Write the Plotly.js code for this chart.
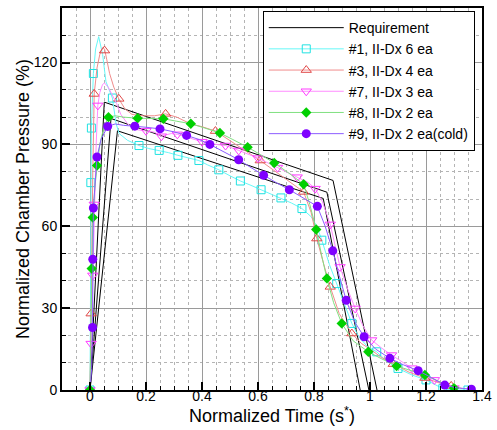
<!DOCTYPE html>
<html><head><meta charset="utf-8">
<script src="https://cdn.plot.ly/plotly-3.0.1.min.js"></script>
<style>html,body{margin:0;padding:0;background:#fff}#chart{width:497px;height:430px}</style>
</head><body><div id="chart"></div>
<script>
// Requirement envelope (three polylines separated by null)
const reqX = [0, 0.051, 0.868, 1.025, null, 0, 0.075, 0.846, 0.996, null, 0, 0.098, 0.833, 0.965];
const reqY = [0, 105.5, 76.8, 0, null, 0, 99.5, 72.5, 0, null, 0, 95, 70.2, 0];

// #1, II-Dx 6 ea
const s1X = [0, 0.002, 0.003, 0.005, 0.012, 0.02, 0.031, 0.045, 0.057, 0.08, 0.093, 0.104, 0.134, 0.175, 0.21, 0.247, 0.28, 0.314, 0.35, 0.389, 0.42, 0.46, 0.5, 0.537, 0.575, 0.611, 0.645, 0.682, 0.72, 0.757, 0.79, 0.81, 0.828, 0.855, 0.881, 0.91, 0.935, 0.96, 0.99, 1.024, 1.06, 1.1, 1.15, 1.2, 1.24, 1.26, 1.3, 1.35];
const s1Y = [0, 40, 76, 96, 116, 125, 129.5, 123, 113, 107, 97.7, 94, 91.5, 89.6, 88.5, 87.8, 87, 86, 85, 84.1, 82.5, 80.7, 78.5, 76.6, 75, 73.4, 72, 70.4, 68.5, 66.5, 63.5, 60, 54.9, 46, 39, 31, 24.4, 19.5, 16, 14, 10.5, 7.9, 5.5, 3.7, 1.5, 0.5, 0, 0];
const s1MX = [0, 0.003, 0.005, 0.012, 0.08, 0.175, 0.247, 0.314, 0.389, 0.46, 0.537, 0.611, 0.682, 0.757, 0.828, 0.881, 0.935, 1.024, 1.1, 1.2, 1.26, 1.35];
const s1MY = [0, 76, 96, 116, 107, 89.6, 87.8, 86, 84.1, 80.7, 76.6, 73.4, 70.4, 66.5, 54.9, 39, 24.4, 14, 7.9, 3.7, 0.5, 0];

// #3, II-Dx 4 ea
const s3X = [0, 0.002, 0.004, 0.01, 0.015, 0.025, 0.035, 0.045, 0.052, 0.06, 0.07, 0.085, 0.103, 0.125, 0.15, 0.19, 0.23, 0.27, 0.31, 0.36, 0.4, 0.448, 0.5, 0.55, 0.608, 0.65, 0.7, 0.763, 0.79, 0.81, 0.835, 0.858, 0.89, 0.935, 0.97, 1.0, 1.04, 1.083, 1.14, 1.196, 1.25, 1.29, 1.33];
const s3Y = [0, 12, 28, 80, 108.5, 118, 123, 125.5, 125, 121, 116, 111, 106.7, 103, 101, 100.5, 100.5, 101.2, 100, 97.5, 96.5, 94.9, 91.5, 88, 84.1, 81, 77.5, 72.6, 65, 55.5, 46, 37.8, 28, 20.7, 17, 15, 12, 9.5, 6.5, 4.4, 2.5, 1.5, 0.5];
const s3MX = [0, 0.004, 0.015, 0.052, 0.103, 0.27, 0.448, 0.608, 0.763, 0.81, 0.858, 0.935, 1.083, 1.196, 1.29];
const s3MY = [0, 28, 108.5, 124.4, 106.7, 101.2, 94.9, 84.1, 72.6, 55.5, 37.8, 20.7, 9.5, 4.4, 1.5];

// #7, II-Dx 3 ea
const s7X = [0, 0.002, 0.004, 0.01, 0.015, 0.022, 0.028, 0.035, 0.045, 0.052, 0.065, 0.08, 0.095, 0.11, 0.134, 0.16, 0.2, 0.23, 0.255, 0.29, 0.312, 0.35, 0.4, 0.45, 0.484, 0.531, 0.6, 0.67, 0.74, 0.78, 0.804, 0.83, 0.858, 0.875, 0.893, 0.92, 0.947, 0.975, 1.006, 1.04, 1.077, 1.15, 1.23, 1.27, 1.3];
const s7Y = [0, 8, 17, 42, 68, 90, 104.3, 109, 112, 112.5, 111, 108, 105, 101, 97.6, 95.5, 95, 94.5, 93, 94, 93.7, 92.5, 91, 90, 89.6, 87.8, 85, 81.5, 78, 76, 73.8, 69, 60.7, 53, 45.1, 37, 29.9, 23.5, 18.3, 15.5, 12.8, 8, 3.7, 2, 0.7];
const s7MX = [0, 0.004, 0.01, 0.015, 0.028, 0.2, 0.255, 0.312, 0.4, 0.484, 0.531, 0.6, 0.67, 0.74, 0.804, 0.858, 0.893, 0.947, 1.006, 1.077, 1.15, 1.23, 1.3];
const s7MY = [0, 17, 42, 68, 104.3, 95, 93, 93.7, 91, 89.6, 87.8, 85, 81.5, 78, 73.8, 60.7, 45.1, 29.9, 18.3, 12.8, 8, 3.7, 0.7];

// #8, II-Dx 2 ea
const s8X = [0, 0.003, 0.006, 0.01, 0.018, 0.025, 0.035, 0.05, 0.066, 0.09, 0.12, 0.17, 0.215, 0.262, 0.31, 0.36, 0.41, 0.464, 0.51, 0.563, 0.61, 0.658, 0.71, 0.763, 0.785, 0.808, 0.828, 0.846, 0.87, 0.899, 0.94, 0.994, 1.04, 1.095, 1.15, 1.196, 1.25, 1.3];
const s8Y = [0, 23, 44.5, 63.2, 75, 82.3, 90, 96.5, 100, 100.5, 100, 99.6, 99.5, 99.4, 98.5, 97.6, 96, 94.2, 91.8, 89, 86.2, 83.2, 79.5, 75.4, 68, 58.8, 49, 40.9, 32, 24.4, 18, 14, 11.5, 8.8, 7, 5.5, 3, 0.7];
const s8MX = [0, 0.006, 0.01, 0.025, 0.066, 0.17, 0.262, 0.36, 0.464, 0.563, 0.658, 0.763, 0.808, 0.846, 0.899, 0.994, 1.095, 1.196, 1.3];
const s8MY = [0, 44.5, 63.2, 82.3, 100, 99.6, 99.4, 97.6, 94.2, 89, 83.2, 75.4, 58.8, 40.9, 24.4, 14, 8.8, 5.5, 0.7];

// #9, II-Dx 2 ea(cold)
const s9X = [0, 0.006, 0.009, 0.01, 0.012, 0.025, 0.04, 0.063, 0.09, 0.12, 0.16, 0.2, 0.25, 0.3, 0.345, 0.39, 0.428, 0.48, 0.531, 0.575, 0.62, 0.665, 0.712, 0.76, 0.812, 0.84, 0.867, 0.89, 0.915, 0.945, 0.979, 1.02, 1.071, 1.12, 1.172, 1.22, 1.267, 1.31, 1.362];
const s9Y = [0, 8, 22.9, 47.9, 66.7, 85.4, 92, 96.6, 97.5, 97, 96.7, 96.3, 95.7, 94.6, 93.3, 91.8, 90, 87.3, 84.4, 81.5, 78.7, 76, 73.4, 70.5, 67.3, 60, 51, 42, 32.9, 25, 19.5, 15, 11.6, 9.2, 7.1, 4.5, 1.8, 0.8, 0.3];
const s9MX = [0.009, 0.01, 0.012, 0.025, 0.063, 0.16, 0.25, 0.345, 0.428, 0.531, 0.62, 0.712, 0.812, 0.867, 0.915, 0.979, 1.071, 1.172, 1.267, 1.362];
const s9MY = [22.9, 47.9, 66.7, 85.4, 96.6, 96.7, 95.7, 93.3, 90, 84.4, 78.7, 73.4, 67.3, 51, 32.9, 19.5, 11.6, 7.1, 1.8, 0.3];

const names = ['#1, II-Dx 6 ea', '#3, II-Dx 4 ea', '#7, II-Dx 3 ea', '#8, II-Dx 2 ea', '#9, II-Dx 2 ea(cold)'];

const series = [
  {x: s1X, y: s1Y, mx: s1MX, my: s1MY, line: '#66f8f8', mc: '#20e2e2', sym: 'square-open', size: 8, open: true},
  {x: s3X, y: s3Y, mx: s3MX, my: s3MY, line: '#f08c8c', mc: '#e04848', sym: 'triangle-up-open', size: 9, open: true},
  {x: s7X, y: s7Y, mx: s7MX, my: s7MY, line: '#ff8cff', mc: '#ff3cff', sym: 'triangle-down-open', size: 9, open: true},
  {x: s8X, y: s8Y, mx: s8MX, my: s8MY, line: '#80e080', mc: '#00d000', sym: 'diamond', size: 8, open: false},
  {x: s9X, y: s9Y, mx: s9MX, my: s9MY, line: '#8c5cff', mc: '#7f00ff', sym: 'circle', size: 9, open: false}
];

const traces = [];
traces.push({x: reqX, y: reqY, mode: 'lines', name: 'Requirement', line: {color: '#000', width: 1}, connectgaps: false});
series.forEach((s, i) => {
  const mk = s.open ? {symbol: s.sym, size: s.size, color: s.mc, line: {color: s.mc, width: 1}}
                    : {symbol: s.sym, size: s.size, color: s.mc, line: {width: 0}};
  traces.push({x: s.x, y: s.y, mode: 'lines', line: {color: s.line, width: 1}, showlegend: false, legendgroup: 'g' + i, hoverinfo: 'skip'});
  traces.push({x: s.mx, y: s.my, mode: 'markers', marker: mk, showlegend: false, legendgroup: 'g' + i});
  traces.push({x: [null], y: [null], mode: 'lines+markers', name: names[i], line: {color: s.line, width: 1}, marker: mk, legendgroup: 'g' + i});
});

const font = 'Liberation Sans, Arial, sans-serif';
const layout = {
  width: 497, height: 430,
  margin: {l: 62, r: 14.6, t: 8, b: 40},
  paper_bgcolor: '#fff', plot_bgcolor: '#fff',
  font: {family: font, color: '#000', size: 14},
  showlegend: true,
  legend: {x: 0.478, y: 0.992, xanchor: 'left', yanchor: 'top', bgcolor: '#fff', bordercolor: '#000', borderwidth: 1,
           font: {family: font, size: 14, color: '#000'}, itemwidth: 75, traceorder: 'normal'},
  xaxis: {range: [-0.1, 1.4], dtick: 0.2, tick0: 0, showline: true, linecolor: '#000', linewidth: 2, mirror: true,
          ticks: 'inside', ticklen: 8, tickwidth: 2, tickcolor: '#000', zeroline: false,
          showgrid: true, gridcolor: '#9a9a9a', gridwidth: 1, ticklabelstandoff: -8,
          tickfont: {family: font, size: 14, color: '#000'},
          minor: {dtick: 0.05, tick0: 0, ticks: 'inside', ticklen: 4, tickwidth: 1, tickcolor: '#000', showgrid: true, gridcolor: '#b4b4b4', griddash: 'dot', gridwidth: 1},
          title: {text: 'Normalized Time (s<sup>*</sup>)', font: {family: font, size: 18, color: '#000'}, standoff: 0}},
  yaxis: {range: [0, 140], dtick: 30, tick0: 0, showline: true, linecolor: '#000', linewidth: 2, mirror: true,
          ticks: 'inside', ticklen: 8, tickwidth: 2, tickcolor: '#000', zeroline: false,
          showgrid: true, gridcolor: '#9a9a9a', gridwidth: 1,
          tickfont: {family: font, size: 14, color: '#000'},
          minor: {dtick: 10, tick0: 0, ticks: 'inside', ticklen: 4, tickwidth: 1, tickcolor: '#000', showgrid: true, gridcolor: '#b4b4b4', griddash: 'dot', gridwidth: 1}},
  annotations: [{text: 'Normalized Chamber Pressure (%)', textangle: -90, xref: 'paper', yref: 'paper', x: 0, y: 0.5,
                 xanchor: 'center', yanchor: 'middle', xshift: -39, yshift: 0, showarrow: false,
                 font: {family: font, size: 18, color: '#000'}}]
};

Plotly.newPlot('chart', traces, layout, {staticPlot: true, displayModeBar: false});
</script>
</body></html>
